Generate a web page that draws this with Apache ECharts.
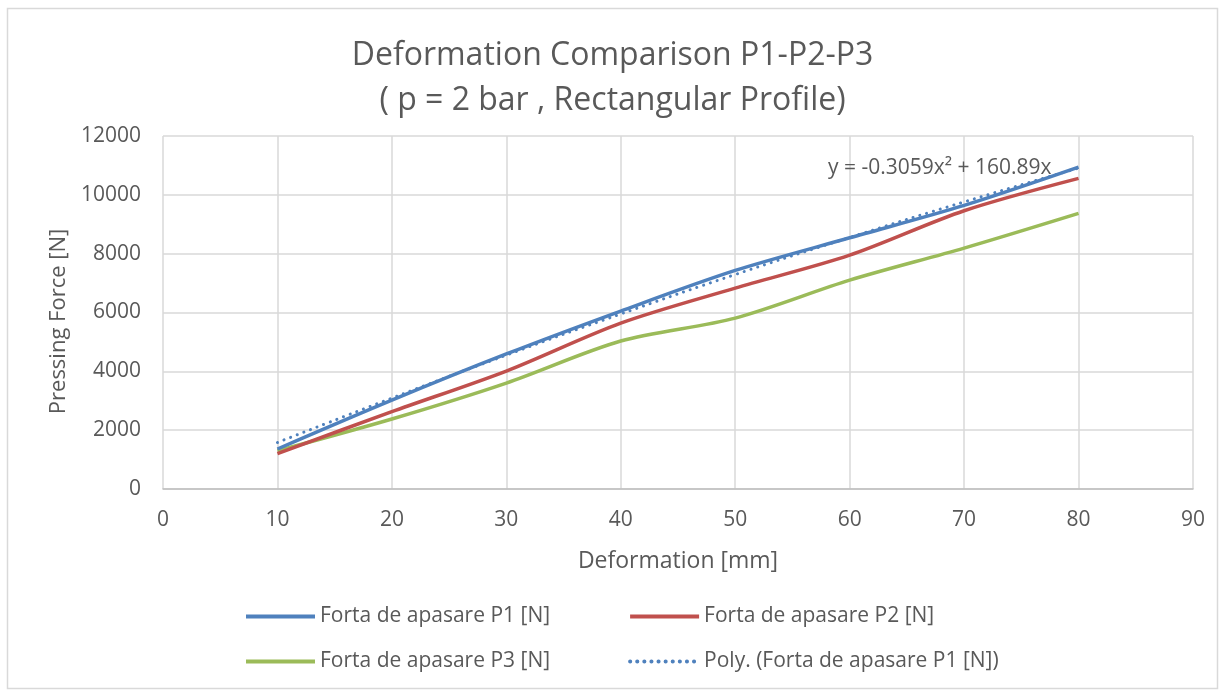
<!DOCTYPE html>
<html>
<head>
<meta charset="utf-8">
<script src="https://cdn.jsdelivr.net/npm/echarts@6/dist/echarts.min.js"></script>
<style>
  html, body { margin: 0; padding: 0; background: #fff; }
  #chart { width: 1225px; height: 691px; }
</style>
</head>
<body>
<div id="chart"></div>
<script>
// values
var deformation = [10, 20, 30, 40, 50, 60, 70, 80];
var forceP1 = [1360, 3020, 4590, 6050, 7430, 8540, 9640, 10940];
var forceP2 = [1200, 2630, 4010, 5640, 6830, 7950, 9460, 10560];
var forceP3 = [1300, 2380, 3600, 5030, 5810, 7100, 8190, 9370];
var polyP1 = [1580, 3090, 4550, 5950, 7290, 8550, 9760, 10910];

var fontName = "Open Sans";
var textColor = "#595959";

function pairs(ys) {
  return deformation.map(function (x, i) { return [x, ys[i]]; });
}

var chartDom = document.getElementById("chart");
var myChart = echarts.init(chartDom);
var option;

var legendCommon = {
  left: 244,
  padding: 0,
  itemWidth: 69,
  itemHeight: 14,
  itemGap: 78,
  itemStyle: { opacity: 0 },
  lineStyle: { width: 4 },
  textStyle: { fontSize: 21, color: textColor, fontFamily: fontName },
};

option = {
  animation: false,
  textStyle: { fontFamily: fontName, color: textColor },
  title: {
    text: "Deformation Comparison P1-P2-P3\n( p = 2 bar , Rectangular Profile)",
    left: "center",
    top: 28,
    textStyle: {
      fontFamily: fontName,
      fontSize: 32,
      fontWeight: "normal",
      color: textColor,
      lineHeight: 45,
    },
  },
  grid: { left: 163, right: 32, top: 136, bottom: 202 },
  xAxis: {
    type: "value",
    min: 0,
    max: 90,
    interval: 10,
    name: "Deformation [mm]",
    nameLocation: "middle",
    nameGap: 61,
    nameTextStyle: { fontSize: 23, color: textColor, fontFamily: fontName },
    axisLine: { lineStyle: { color: "#BFBFBF", width: 1.5 } },
    axisTick: { show: false },
    axisLabel: { fontSize: 21, color: textColor, margin: 21 },
    splitLine: { show: true, lineStyle: { color: "#D9D9D9", width: 1.5 } },
  },
  yAxis: {
    type: "value",
    min: 0,
    max: 12000,
    interval: 2000,
    name: "Pressing Force [N]",
    nameLocation: "middle",
    nameGap: 92,
    nameTextStyle: {
      fontSize: 22,
      color: textColor,
      fontFamily: fontName,
      padding: [0, 18, 0, 0],
    },
    axisLine: { show: false },
    axisTick: { show: false },
    axisLabel: {
      fontSize: 21,
      color: textColor,
      margin: 22,
      formatter: function (value) { return String(value); },
    },
    splitLine: { show: true, lineStyle: { color: "#D9D9D9", width: 1.5 } },
  },
  legend: [
    Object.assign({}, legendCommon, {
      data: ["Forta de apasare P1 [N]", "Forta de apasare P2 [N]"],
      top: 606,
    }),
    Object.assign({}, legendCommon, {
      data: ["Forta de apasare P3 [N]", "Poly. (Forta de apasare P1 [N])"],
      top: 651,
    }),
  ],
  graphic: [
    {
      type: "rect",
      shape: { x: 7.5, y: 8.5, width: 1210, height: 680 },
      style: { fill: "none", stroke: "#D9D9D9", lineWidth: 1.5 },
      silent: true,
    },
    {
      type: "text",
      left: 828,
      top: 158,
      style: {
        text: "y = -0.3059x\u00B2 + 160.89x",
        fontSize: 21,
        fontFamily: fontName,
        fill: textColor,
      },
      z: 10,
    },
  ],
  series: [
    {
      name: "Forta de apasare P1 [N]",
      type: "line",
      smooth: 0.3,
      symbol: "none",
      data: pairs(forceP1),
      lineStyle: { color: "#4F81BD", width: 3.5 },
      itemStyle: { color: "#4F81BD" },
      z: 4,
    },
    {
      name: "Forta de apasare P2 [N]",
      type: "line",
      smooth: 0.3,
      symbol: "none",
      data: pairs(forceP2),
      lineStyle: { color: "#C0504D", width: 3.5 },
      itemStyle: { color: "#C0504D" },
      z: 3,
    },
    {
      name: "Forta de apasare P3 [N]",
      type: "line",
      smooth: 0.3,
      symbol: "none",
      data: pairs(forceP3),
      lineStyle: { color: "#9BBB59", width: 3.5 },
      itemStyle: { color: "#9BBB59" },
      z: 2,
    },
    {
      name: "Poly. (Forta de apasare P1 [N])",
      type: "line",
      smooth: true,
      symbol: "none",
      data: pairs(polyP1),
      lineStyle: { color: "#4F81BD", width: 3, type: [0.1, 7], cap: "round" },
      itemStyle: { color: "#4F81BD" },
      z: 5,
    },
  ],
};

option && myChart.setOption(option);
</script>
</body>
</html>
